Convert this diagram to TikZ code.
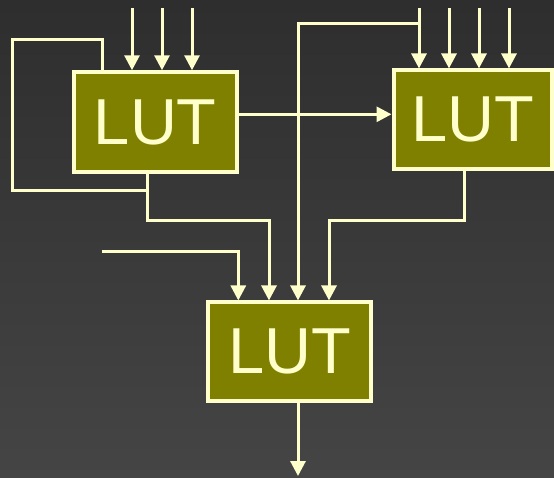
\documentclass[tikz,border=0pt]{standalone}
\usepackage{fontspec}
\newfontfamily\lutfont{Liberation Sans}
\usetikzlibrary{arrows.meta}
\definecolor{lutfill}{HTML}{808000}
\definecolor{wirecol}{HTML}{FFFFCC}

\begin{document}
\begin{tikzpicture}[x=1pt,y=-1pt,
  lut/.style={draw=wirecol,fill=lutfill,line width=4pt,text=wirecol,inner sep=0pt,
    font=\lutfont\fontsize{65}{65}\selectfont,minimum height=98.5pt},
  wire/.style={draw=wirecol,line width=3pt},
  arr/.style={wire,-{Triangle[width=15pt,length=15pt]}}]
\useasboundingbox (0,0) rectangle (554,477);
\shade[top color=black!82,bottom color=black!73] (0,0) rectangle (554,477);

\node[lut,minimum width=163pt,minimum height=99.5pt] (lutA) at (155.3,122) {LUT};
\node[lut,minimum width=158pt] (lutB) at (472.5,119.7) {LUT};
\node[lut,minimum width=163pt] (lutC) at (289.7,351.7) {LUT};

% inputs from the top
\foreach \x [count=\i] in {132,162,192} {
  \coordinate (inA\i) at (\x,8);
  \draw[arr] (inA\i) -- (inA\i |- lutA.north);
}
\foreach \x [count=\i] in {419,449,479,509} {
  \coordinate (inB\i) at (\x,8);
  \draw[arr] (inB\i) -- (inB\i |- lutB.north);
}

\coordinate (loopA) at (12,39);
\coordinate (loopB) at (12,190);
\coordinate (bendA) at (147,220);
\coordinate (bendB) at (329,220);
\coordinate (topB) at (298,23);
\coordinate (inC) at (102,251);
\coordinate (outC) at (298,476);

% A to B
\draw[arr] (lutA.east |- 0,114.3) -- (lutB.west |- 0,114.3);
% feedback round A
\draw[wire] (lutA.north -| 102,0) |- (loopA) -- (loopB) -- (loopB -| bendA);
% into C
\draw[arr] (lutA.south -| bendA) -- (bendA) -| ([xshift=-20.7pt]lutC.north);
\draw[arr] (lutB.south -| 464.3,0) |- (bendB) -- (bendB |- lutC.north);
\draw[arr] (topB -| inB1) -- (topB) -- (topB |- lutC.north);
\draw[arr] (inC) -| ([xshift=-51.4pt]lutC.north);
\draw[arr] (lutC.south -| outC) -- (outC);
\end{tikzpicture}
\end{document}
